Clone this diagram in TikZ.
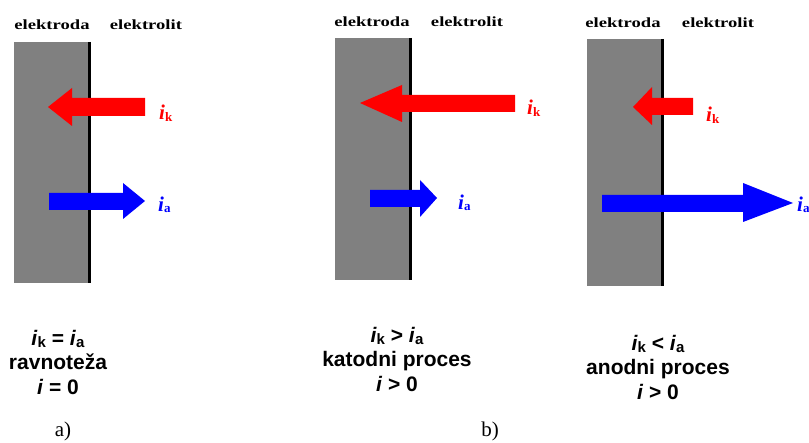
\documentclass[tikz,border=0pt]{standalone}
\usepackage{fontspec}
\setmainfont{Liberation Serif}
\setsansfont{Liberation Sans}
\newcommand{\topfont}{\fontsize{14}{16}\selectfont\bfseries}
\newcommand{\sidecur}[1]{\fontsize{21}{24}\selectfont\bfseries\itshape i\raisebox{-0.15ex}{\fontsize{13}{13}\selectfont\upshape #1}}
\newcommand{\botcur}[1]{\textit{i}\raisebox{-0.25ex}{\fontsize{15}{15}\selectfont #1}}
\begin{document}
\begin{tikzpicture}[x=1pt,y=-1pt,
  electrode/.style={fill=black!50,draw=none},
  interface/.style={line width=3pt,black},
  toplabel/.style={inner sep=0pt,font=\topfont},
  sidelabel/.style={inner sep=0pt,anchor=west},
  bottext/.style={inner sep=0pt,align=center,font=\sffamily\bfseries\fontsize{21}{24.5}\selectfont},
  panellabel/.style={inner sep=0pt,font=\fontsize{21}{24}\selectfont}]
\clip (0,0) rectangle (809,443);
\fill[white] (0,0) rectangle (809,443);
\useasboundingbox (0,0) rectangle (809,443);

% ---------- panel a ----------
\fill[electrode] (14,42) rectangle (89,283);
\draw[interface] (89,42) -- (89,283);
\node[toplabel] (ea) at (52,25) {\scalebox{1.33}[1]{elektroda}};
\node[toplabel] (la) at (146,25) {\scalebox{1.33}[1]{elektrolit}};
% red arrow (left)
\fill[red] (145,98) -- (72,98) -- (72,88) -- (48,107) -- (72,126) -- (72,116) -- (145,116) -- cycle;
\node[sidelabel,red] (ika) at (159,113) {\sidecur{k}};
% blue arrow (right)
\fill[blue] (49,193) -- (123,193) -- (123,183) -- (145,201) -- (123,219) -- (123,210) -- (49,210) -- cycle;
\node[sidelabel,blue] (iaa) at (158,205) {\sidecur{a}};
\node[bottext] (ta) at (58,362) {\botcur{k} = \botcur{a}\\ravnoteža\\\textit{i} = 0};
\node[panellabel] (pa) at (63,431) {a)};

% ---------- panel b ----------
\fill[electrode] (335,38) rectangle (410,280);
\draw[interface] (410,38) -- (410,280);
\node[toplabel] (eb) at (372,22) {\scalebox{1.33}[1]{elektroda}};
\node[toplabel] (lb) at (467,22) {\scalebox{1.33}[1]{elektrolit}};
\fill[red] (515,95) -- (402,95) -- (402,85) -- (360,103) -- (402,122) -- (402,112) -- (515,112) -- cycle;
\node[sidelabel,red] (ikb) at (527,108) {\sidecur{k}};
\fill[blue] (370,190) -- (420,190) -- (420,180) -- (437,198) -- (420,217) -- (420,207) -- (370,207) -- cycle;
\node[sidelabel,blue] (iab) at (458,203) {\sidecur{a}};
\node[bottext] (tb) at (397,359) {\botcur{k} > \botcur{a}\\katodni proces\\\textit{i} > 0};
\node[panellabel] (pb) at (490,431) {b)};

% ---------- panel c ----------
\fill[electrode] (587,39) rectangle (662,286);
\draw[interface] (662,39) -- (662,286);
\node[toplabel] (ec) at (623,23) {\scalebox{1.33}[1]{elektroda}};
\node[toplabel] (lc) at (718,23) {\scalebox{1.33}[1]{elektrolit}};
\fill[red] (693,98) -- (652,98) -- (652,87) -- (633,107) -- (652,125) -- (652,115) -- (693,115) -- cycle;
\node[sidelabel,red] (ikc) at (706,115) {\sidecur{k}};
\fill[blue] (602,195) -- (743,195) -- (743,183) -- (793,203) -- (743,222) -- (743,212) -- (602,212) -- cycle;
\node[sidelabel,blue] (iac) at (797,205) {\sidecur{a}};
\node[bottext] (tc) at (658,367) {\botcur{k} < \botcur{a}\\anodni proces\\\textit{i} > 0};
\end{tikzpicture}
\end{document}
